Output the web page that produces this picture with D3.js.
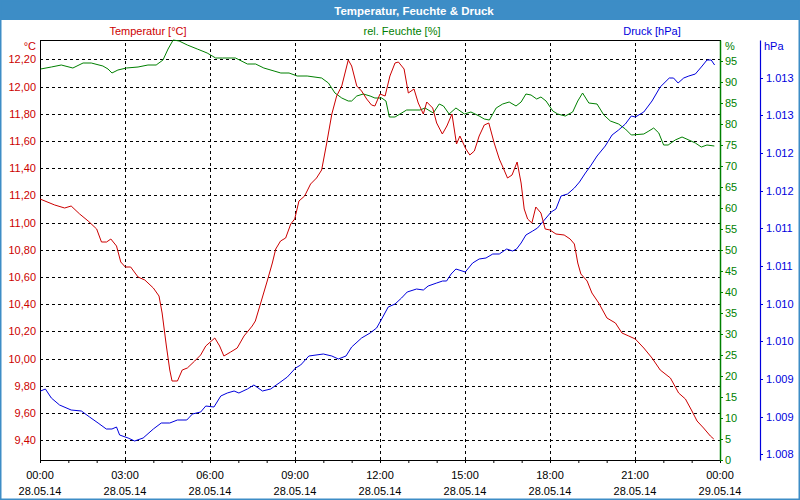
<!DOCTYPE html>
<html><head><meta charset="utf-8">
<script src="https://cdn.jsdelivr.net/npm/d3@7"></script>
<style>
body{margin:0;background:#fff}
svg{display:block}
text{font-family:"Liberation Sans",Arial,sans-serif}
</style>
</head><body>
<svg id="c" width="800" height="500"></svg>
<script>
const chartTitle = "Temperatur, Feuchte & Druck";
const seriesNames = ["Temperatur [°C]", "rel. Feuchte [%]", "Druck [hPa]"];
const unitLabels = ["°C", "%", "hPa"];
const majorHours = [0,3,6,9,12,15,18,21,24];
const hourLabels = ["00:00","03:00","06:00","09:00","12:00","15:00","18:00","21:00","00:00"];
const dateLabels = ["28.05.14","28.05.14","28.05.14","28.05.14","28.05.14","28.05.14","28.05.14","28.05.14","29.05.14"];
const tempTicks = [9.4,9.6,9.8,10.0,10.2,10.4,10.6,10.8,11.0,11.2,11.4,11.6,11.8,12.0,12.2];
const humTicks = [0,5,10,15,20,25,30,35,40,45,50,55,60,65,70,75,80,85,90,95];
const pressTicks = [1008,1008.5,1009,1009.5,1010,1010.5,1011,1011.5,1012,1012.5,1013];

const tempHours = [
 0,0.52,0.87,1.1,1.4,1.7,2.0,2.17,2.35,2.5,
 2.7,2.85,3.01,3.2,3.46,3.7,4.0,4.2,4.31,4.46,
 4.58,4.66,4.85,5.02,5.2,5.46,5.67,5.85,6.17,6.34,
 6.49,6.73,6.96,7.2,7.49,7.6,7.79,8.02,8.2,8.32,
 8.49,8.67,8.85,8.99,9.14,9.34,9.55,9.76,9.94,10.12,
 10.3,10.47,10.65,10.88,11.0,11.18,11.35,11.53,11.7,11.82,
 12.0,12.18,12.35,12.53,12.65,12.85,13.0,13.2,13.35,13.53,
 13.65,13.86,14.0,14.2,14.36,14.54,14.7,14.82,15.03,15.17,
 15.33,15.5,15.68,15.84,16.03,16.21,16.35,16.5,16.66,16.84,
 16.98,17.09,17.21,17.36,17.5,17.68,17.83,18.0,18.21,18.5,
 18.71,18.86,18.98,19.09,19.31,19.48,19.72,20.01,20.31,20.54,
 20.78,21.01,21.31,21.6,21.89,22.25,22.54,22.78,23.01,23.19,
 23.42,23.66,23.78];
const tempValues = [
 11.17,11.13,11.11,11.12,11.06,11.01,10.955,10.86,10.857,10.877,
 10.827,10.71,10.675,10.675,10.60,10.577,10.52,10.46,10.337,10.09,
 9.92,9.835,9.835,9.913,9.93,9.98,10.03,10.09,10.153,10.09,
 10.02,10.048,10.08,10.165,10.24,10.276,10.41,10.57,10.705,10.807,
 10.864,10.888,10.987,11.024,11.16,11.195,11.28,11.33,11.39,11.587,
 11.796,11.93,12.004,12.195,12.15,12.004,11.967,11.906,11.862,11.857,
 11.943,11.93,12.077,12.175,12.18,12.13,11.955,11.98,11.88,11.80,
 11.888,11.844,11.734,11.65,11.71,11.80,11.58,11.636,11.538,11.50,
 11.526,11.636,11.72,11.734,11.587,11.465,11.403,11.33,11.347,11.445,
 11.293,11.097,11.028,10.998,11.116,11.072,10.95,10.945,10.913,10.906,
 10.877,10.84,10.705,10.62,10.57,10.484,10.41,10.30,10.259,10.19,
 10.165,10.141,10.08,10.006,9.92,9.86,9.75,9.70,9.614,9.54,
 9.49,9.43,9.406];

const humHours = [
 0.02,0.4,0.75,1.16,1.52,1.81,2.22,2.4,2.54,2.75,
 3.05,3.46,3.81,4.1,4.34,4.52,4.7,4.91,5.2,5.55,
 5.9,6.2,6.44,6.9,7.32,7.61,7.9,8.26,8.5,8.79,
 9.08,9.43,9.94,10.18,10.41,10.65,10.88,11.0,11.18,11.41,
 11.65,11.82,12.06,12.21,12.33,12.53,12.94,13.41,13.59,13.88,
 14.09,14.24,14.44,14.68,14.98,15.21,15.5,15.68,15.86,16.1,
 16.33,16.56,16.8,16.98,17.15,17.33,17.53,17.68,17.86,18.1,
 18.27,18.54,18.8,18.98,19.15,19.37,19.66,19.9,20.13,20.42,
 20.66,20.87,21.31,21.49,21.66,21.84,22.01,22.17,22.42,22.66,
 22.9,23.13,23.34,23.54,23.8];
const humValues = [
 93.0,93.6,94.0,93.4,94.6,94.6,93.8,93.0,92.1,92.8,
 93.3,93.6,94.1,94.0,95.2,97.8,100,99.8,98.7,97.8,
 96.8,95.8,95.8,95.8,94.4,94.4,93.3,92.6,92.2,92.1,
 91.4,91.4,91.0,89.8,87.5,86.3,85.5,85.5,86.7,87.2,
 86.7,86.3,86.3,85.5,81.7,81.7,83.3,83.3,83.9,82.7,
 84.7,84.3,82.5,83.7,82.3,82.9,81.9,81.1,81.0,83.9,
 84.7,85.3,84.4,85.2,87.1,86.8,85.9,86.4,85.5,83.1,
 82.3,81.9,82.9,85.5,87.5,84.9,84.7,82.1,80.7,79.9,
 78.7,77.5,77.7,78.3,79.1,77.9,75.0,75.0,76.1,76.9,
 76.3,75.4,74.5,75.0,74.8];

const pressHours = [
 0.02,0.19,0.4,0.69,1.1,1.46,1.75,2.05,2.34,2.54,
 2.7,2.81,3.11,3.34,3.64,4.0,4.28,4.58,4.85,5.18,
 5.38,5.67,5.85,6.14,6.38,6.61,6.85,7.02,7.32,7.55,
 7.85,8.14,8.44,8.73,9.02,9.2,9.49,10.0,10.3,10.53,
 10.8,11.0,11.35,11.65,11.88,12.06,12.29,12.53,12.76,12.96,
 13.29,13.53,13.7,14.0,14.21,14.35,14.51,14.68,15.01,15.27,
 15.5,15.74,15.98,16.21,16.47,16.68,16.82,16.98,17.15,17.39,
 17.56,17.8,18.04,18.21,18.39,18.62,18.86,19.04,19.25,19.43,
 19.66,19.95,20.19,20.42,20.66,20.87,21.01,21.31,21.6,21.89,
 22.21,22.36,22.52,22.72,22.9,23.13,23.37,23.54,23.69,23.81];
const pressValues = [
 1008.84,1008.86,1008.75,1008.66,1008.59,1008.57,1008.49,1008.42,1008.33,1008.33,
 1008.36,1008.26,1008.22,1008.18,1008.21,1008.34,1008.42,1008.42,1008.45,1008.45,
 1008.54,1008.56,1008.64,1008.63,1008.77,1008.82,1008.84,1008.82,1008.87,1008.92,
 1008.84,1008.87,1008.94,1009.03,1009.15,1009.18,1009.31,1009.33,1009.30,1009.27,
 1009.30,1009.43,1009.55,1009.61,1009.68,1009.80,1009.95,1009.99,1010.08,1010.16,
 1010.19,1010.18,1010.24,1010.27,1010.30,1010.30,1010.39,1010.46,1010.42,1010.54,
 1010.59,1010.61,1010.66,1010.66,1010.72,1010.70,1010.72,1010.81,1010.91,1010.96,
 1011.01,1011.11,1011.22,1011.26,1011.43,1011.45,1011.53,1011.61,1011.73,1011.83,
 1011.96,1012.09,1012.24,1012.31,1012.39,1012.49,1012.48,1012.55,1012.69,1012.87,
 1012.99,1012.99,1012.93,1012.99,1013.02,1013.05,1013.16,1013.24,1013.24,1013.17];

// ---- layout & styles ----
const W = 800, H = 500;
const L = 40, R = 720, T = 40, B = 460;
const cRed = "#cc0000", cGreen = "#008000", cBlue = "#0000dd", cBar = "#3d8dc6";

const de = d3.formatLocale({decimal: ",", thousands: ".", grouping: [3], currency: ["", "€"]});
const fTemp = de.format(",.2f");
const fPress = de.format(",.0f");

const svg = d3.select("#c");
svg.append("rect").attr("width", W).attr("height", H).attr("fill", "#fff");

const x = d3.scaleLinear().domain([0, 24]).range([L, R]);
const yT = d3.scaleLinear().domain([9.255, 12.342]).rangeRound([B, T]);
const yH = d3.scaleLinear().domain([0, 100]).rangeRound([B, T]);
const yP = d3.scaleLinear().domain([1007.924, 1013.5]).rangeRound([B, T]);

// title bar
svg.append("rect").attr("x", 0).attr("y", 0).attr("width", W).attr("height", 20).attr("fill", cBar);
svg.append("text").attr("x", 414).attr("y", 14.5).attr("text-anchor", "middle")
  .attr("fill", "#fff").attr("font-weight", "bold").attr("font-size", 11.5).text(chartTitle);

// series names
const nameX = [148, 402, 652], nameC = [cRed, cGreen, cBlue];
svg.selectAll("text.sname").data(seriesNames).join("text").attr("class", "sname")
  .attr("x", (d, i) => nameX[i]).attr("y", 35).attr("text-anchor", "middle")
  .attr("font-size", 11).attr("fill", (d, i) => nameC[i]).text(d => d);

// horizontal grid + left axis labels
const gL = svg.append("g").attr("transform", `translate(${L},0)`)
  .call(d3.axisLeft(yT).tickValues(tempTicks).tickSizeInner(-(R - L)).tickSizeOuter(0).tickPadding(4).tickFormat(fTemp));
gL.select(".domain").attr("stroke", "#000");
gL.selectAll(".tick line").attr("stroke", "#000").attr("stroke-dasharray", "3,3");
gL.selectAll(".tick text").attr("fill", cRed).attr("font-size", 11).attr("font-family", null);

// vertical grid
const gV = svg.append("g").attr("transform", `translate(0,${B})`)
  .call(d3.axisBottom(x).tickValues(majorHours.slice(1, -1)).tickSizeInner(-(B - T)).tickSizeOuter(0).tickFormat(""));
gV.select(".domain").remove();
gV.selectAll(".tick line").attr("stroke", "#000").attr("stroke-dasharray", "3,3");

// bottom axis with hourly ticks
const gB = svg.append("g").attr("transform", `translate(0,${B})`)
  .call(d3.axisBottom(x).tickValues(d3.range(0, 25)).tickSizeInner(3).tickSizeOuter(0).tickFormat(""));
gB.select(".domain").attr("stroke", "#000");
gB.selectAll(".tick line").attr("stroke", "#000");

// bottom labels
const lab = svg.append("g").attr("font-size", 11).attr("fill", "#000").attr("text-anchor", "middle");
lab.selectAll("text.h").data(majorHours).join("text").attr("class", "h")
  .attr("x", d => x(d)).attr("y", 479).text((d, i) => hourLabels[i]);
lab.selectAll("text.d").data(majorHours).join("text").attr("class", "d")
  .attr("x", d => x(d)).attr("y", 495).text((d, i) => dateLabels[i]);

// top border
svg.append("line").attr("x1", L).attr("x2", R + 1).attr("y1", T + 0.5).attr("y2", T + 0.5).attr("stroke", "#000");

// right green axis
const gG = svg.append("g").attr("transform", `translate(${R},0)`)
  .call(d3.axisRight(yH).tickValues(humTicks).tickSizeInner(3).tickSizeOuter(0).tickPadding(2).tickFormat(d => d));
gG.select(".domain").attr("stroke", cGreen).attr("stroke-width", 1.5);
gG.selectAll(".tick line").attr("stroke", cGreen);
gG.selectAll(".tick text").attr("fill", cGreen).attr("font-size", 11).attr("font-family", null);

// blue axis
const gP = svg.append("g").attr("transform", `translate(760,0)`)
  .call(d3.axisRight(yP).tickValues(pressTicks).tickSizeInner(3).tickSizeOuter(0).tickPadding(3).tickFormat(fPress));
gP.select(".domain").attr("stroke", cBlue).attr("stroke-width", 1.2);
gP.selectAll(".tick line").attr("stroke", cBlue);
gP.selectAll(".tick text").attr("fill", cBlue).attr("font-size", 11).attr("font-family", null);

// unit labels
svg.append("text").attr("x", 36).attr("y", 50).attr("text-anchor", "end").attr("font-size", 11).attr("fill", cRed).text(unitLabels[0]);
svg.append("text").attr("x", 725).attr("y", 50).attr("font-size", 11).attr("fill", cGreen).text(unitLabels[1]);
svg.append("text").attr("x", 764).attr("y", 50).attr("font-size", 11).attr("fill", cBlue).text(unitLabels[2]);

// series lines
function drawLine(hours, vals, ys, color) {
  const pts = hours.map((h, i) => [h, vals[i]]);
  svg.append("path").datum(pts)
    .attr("fill", "none").attr("stroke", color).attr("stroke-width", 1)
    .attr("d", d3.line().x(d => x(d[0])).y(d => ys(d[1])));
}
drawLine(humHours, humValues, yH, cGreen);
drawLine(pressHours, pressValues, yP, cBlue);
drawLine(tempHours, tempValues, yT, cRed);

// outer frame
svg.append("rect").attr("x", 0.5).attr("y", 0.5).attr("width", W - 1).attr("height", H - 1)
  .attr("fill", "none").attr("stroke", cBar).attr("stroke-width", 2);
</script>
</body></html>
